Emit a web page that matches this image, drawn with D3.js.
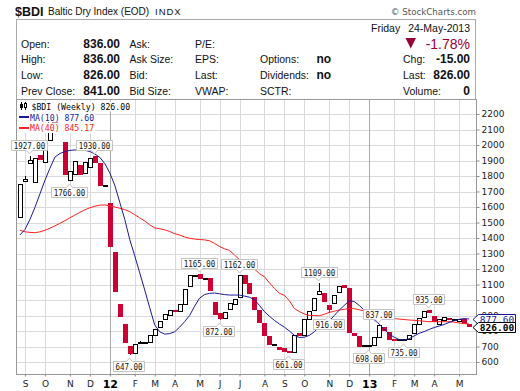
<!DOCTYPE html>
<html>
<head>
<title>$BDI Weekly</title>
<meta charset="utf-8">
<style type="text/css">
body { margin: 0; background: #fff; }
svg { display: block; }
svg text { font-family: "Liberation Sans", Arial, sans-serif; fill: #111; }
svg .mono { font-family: "DejaVu Sans Mono", monospace; }
svg .axis text { font-family: "DejaVu Sans", Verdana, sans-serif; font-size: 9px; fill: #222; }
svg .axis line { stroke: #888; }
</style>
</head>
<body>

<svg id="chart"></svg>

<script src="https://cdn.jsdelivr.net/npm/d3@7"></script>

<script type="text/javascript">
// weekly candles, Aug 29 2011 .. May 20 2013 (index = week number)
const opens = [1534,1768,1880,1761,1935,1884,2032,2150,2110,2021,
  1768,1808,1873,1813,1852,1927,1884,1738,1626,1308,
  974,845,705,655,722,727,725,774,822,871,
  903,935,925,972,1090,1158,1165,1138,1140,989,
  914,882,940,972,1015,1160,1108,1021,935,850,
  768,712,699,690,668,663,786,774,876,935,
  1037,1043,970,975,1050,1097,1080,785,765,702,
  702,705,757,828,796,742,740,741,742,781,
  843,886,935,897,845,866,886,870,866,876,
  848];
const highs = [1742,1797,1927,1916,1935,1980,2173,2160,2115,2021,
  1830,1895,1873,1890,1916,1930,1884,1738,1626,1308,
  974,845,705,716,735,728,774,811,861,908,
  931,935,972,1065,1155,1162,1165,1140,1140,989,
  914,918,979,1004,1162,1160,1108,1021,935,850,
  768,715,699,690,668,772,786,876,929,1010,
  1109,1043,970,1032,1086,1097,1080,785,765,702,
  702,757,837,828,796,742,740,741,770,845,
  882,929,935,897,871,886,886,870,875,876,
  848];
const lows = [1534,1765,1877,1761,1905,1884,2032,2100,2080,1808,
  1766,1808,1808,1813,1852,1884,1738,1738,1344,1050,
  892,725,647,655,718,715,725,774,822,871,
  903,925,925,972,1090,1150,1134,1130,1058,903,
  872,882,940,972,1010,1105,1039,935,850,768,
  710,705,680,667,661,663,770,774,876,935,
  1037,985,916,975,1050,1080,790,768,700,700,
  698,705,757,800,742,737,736,735,742,781,
  843,886,914,860,845,866,868,868,866,845,
  826];
const closes = [1742,1780,1903,1916,1905,1980,2150,2110,2085,1808,
  1830,1895,1808,1890,1916,1884,1738,1738,1344,1050,
  892,725,650,716,722,723,774,811,861,908,
  931,925,972,1065,1155,1156,1134,1135,1058,903,
  876,918,979,1004,1155,1105,1039,935,850,768,
  710,711,680,667,663,772,770,876,929,1010,
  1053,985,935,1032,1086,1080,790,768,700,701,
  702,757,837,800,742,737,739,740,770,845,
  882,929,914,860,871,886,868,869,875,845,
  826];
const ma10 = [1420,1455,1520,1598,1685,1772,1850,1922,1945,1958,
  1965,1968,1968,1966,1958,1942,1920,1880,1820,1740,
  1630,1520,1390,1285,1175,1065,950,840,795,780,
  783,795,825,860,900,960,1012,1035,1043,1045,
  1040,1035,1032,1032,1032,1025,1018,1003,965,925,
  895,868,845,825,800,772,758,760,772,795,
  828,838,865,900,935,965,995,990,965,935,
  900,872,845,810,780,760,745,742,750,768,
  785,796,810,822,832,842,855,866,875,880,
  877.6];
const ma40 = [1450,1440,1436,1434,1440,1450,1463,1478,1495,1512,
  1530,1548,1565,1582,1595,1605,1612,1613,1608,1600,
  1592,1583,1570,1550,1530,1510,1485,1465,1460,1453,
  1442,1428,1419,1407,1398,1393,1390,1388,1382,1365,
  1345,1330,1320,1290,1260,1245,1232,1200,1170,1150,
  1110,1075,1043,1030,995,945,925,910,900,900,
  898,908,920,928,935,940,945,944,937,930,
  922,912,902,893,884,880,877,874,871,869,
  866,863,860,860,860,860,860,857,852,848,
  845.17];

const monthLabels = ["S","O","N","D","12","F","M","A","M","J","J","A","S","O","N","D","13","F","M","A","M"];
const monthWeeks = [1,5,10,14,18,23,27,31,36,40,44,49,53,57,62,66,70,75,79,83,88];
const yTicks = [600,700,800,900,1000,1100,1200,1300,1400,1500,1600,1700,1800,1900,2000,2100,2200];

// swing labels
const callWeeks = [2,10,15,22,36,40,44,54,60,62,70,72,77,82];
const callValues = [1927,1766,1930,647,1165,872,1162,661,1109,916,698,837,735,935];
const callSides = ["up","down","up","down","up","down","up","down","up","down","down","up","down","up"];

// quote table
const quoteLabels = ["Open:", "High:", "Low:", "Prev Close:"];
const quoteValues = ["836.00", "836.00", "826.00", "841.00"];
const bidLabels = ["Ask:", "Ask Size:", "Bid:", "Bid Size:"];
const fundLabels = ["P/E:", "EPS:", "Last:", "VWAP:"];
const flagLabels = ["", "Options:", "Dividends:", "SCTR:"];
const flagValues = ["", "no", "no", ""];
const lastLabels = ["", "Chg:", "Last:", "Volume:"];
const lastValues = ["", "-15.00", "826.00", "0"];

const WIDTH = 520;
const HEIGHT = 391;
const PLOT = {left: 16, right: 476, top: 100, bottom: 374};
const RED = "#cc0033";
const DOWN = "#990033";
const BLUE = "#1a1a99";
const MA_RED = "#ff2020";

const svg = d3.select("#chart").attr("width", WIDTH).attr("height", HEIGHT);

const x = d3.scaleLinear().domain([0, 90]).range([20, 469]);
const y = d3.scaleLinear().domain([600, 2200]).range([362, 114]);

// ---------- header ----------
svg.append("text").attr("x", 15).attr("y", 15.5)
    .attr("font-size", 12.5).attr("font-weight", "bold").text("$BDI");
svg.append("text").attr("x", 48).attr("y", 15)
    .attr("font-size", 10).text("Baltic Dry Index (EOD)");
svg.append("text").attr("x", 155).attr("y", 15)
    .attr("font-size", 9.5).attr("letter-spacing", 1).text("INDX");
svg.append("text").attr("x", 476).attr("y", 15).attr("text-anchor", "end")
    .style("font-family", "'DejaVu Sans', sans-serif").style("fill", "#555")
    .attr("font-size", 8.7).text("\u00A9 StockCharts.com");

svg.append("rect").attr("x", 16.5).attr("y", 19.5).attr("width", 459).attr("height", 80)
    .attr("fill", "#fff").attr("stroke", "#aaa");

const rowY = [47.5, 63, 79, 95];
function cell(txt, cx, row, opts = {}) {
    if (!txt) return;
    svg.append("text").attr("x", cx).attr("y", rowY[row])
        .attr("font-size", opts.bold ? 12 : 10.5)
        .attr("font-weight", opts.bold ? "bold" : null)
        .attr("text-anchor", opts.end ? "end" : null)
        .text(txt);
}
quoteLabels.forEach((t, i) => cell(t, 21, i));
quoteValues.forEach((t, i) => cell(t, 120, i, {bold: true, end: true}));
bidLabels.forEach((t, i) => cell(t, 129.5, i));
fundLabels.forEach((t, i) => cell(t, 195, i));
flagLabels.forEach((t, i) => cell(t, 260, i));
flagValues.forEach((t, i) => cell(t, 316.5, i, {bold: true}));
lastLabels.forEach((t, i) => cell(t, 403, i));
lastValues.forEach((t, i) => cell(t, 470, i, {bold: true, end: true}));

svg.append("text").attr("x", 371).attr("y", 32).attr("font-size", 10.5).text("Friday");
svg.append("text").attr("x", 470).attr("y", 32).attr("font-size", 10.5)
    .attr("text-anchor", "end").text("24-May-2013");
svg.append("path").attr("d", "M405.5,38L416,38L410.75,48.5Z").attr("fill", DOWN);
svg.append("text").attr("x", 470).attr("y", 48.5).attr("font-size", 14)
    .attr("text-anchor", "end").style("fill", DOWN).text("-1.78%");

// ---------- plot frame and grid ----------
svg.append("defs").append("clipPath").attr("id", "plot-clip")
    .append("rect").attr("x", PLOT.left).attr("y", PLOT.top)
    .attr("width", PLOT.right - PLOT.left).attr("height", PLOT.bottom - PLOT.top);

const grid = svg.append("g").attr("shape-rendering", "crispEdges");
grid.selectAll("line.h").data(yTicks).join("line")
    .attr("x1", PLOT.left).attr("x2", PLOT.right)
    .attr("y1", d => Math.round(y(d)) + 0.5).attr("y2", d => Math.round(y(d)) + 0.5)
    .attr("stroke", "#dadada");
grid.selectAll("line.v").data(monthWeeks).join("line")
    .attr("x1", d => Math.round(x(d)) + 0.5).attr("x2", d => Math.round(x(d)) + 0.5)
    .attr("y1", PLOT.top).attr("y2", PLOT.bottom)
    .attr("stroke", (d, i) => /^\d+$/.test(monthLabels[i]) ? "#a8a8a8" : "#dadada");

svg.append("rect").attr("x", PLOT.left + 0.5).attr("y", PLOT.top - 0.5)
    .attr("width", PLOT.right - PLOT.left).attr("height", PLOT.bottom - PLOT.top + 0.5)
    .attr("fill", "none").attr("stroke", "#999").attr("shape-rendering", "crispEdges");

// axes
const yAxis = svg.append("g").attr("class", "axis")
    .attr("transform", `translate(${PLOT.right + 0.5},0)`)
    .call(d3.axisRight(y).tickValues(yTicks).tickSize(3).tickPadding(2).tickFormat(d3.format("d")));
yAxis.select(".domain").remove();

const xAxis = svg.append("g").attr("class", "axis")
    .attr("transform", `translate(0,${PLOT.bottom + 0.5})`)
    .call(d3.axisBottom(x).tickValues(monthWeeks).tickSize(2).tickPadding(4)
        .tickFormat((d, i) => monthLabels[i]));
xAxis.select(".domain").remove();
xAxis.selectAll("text")
    .filter((d, i) => /^\d+$/.test(monthLabels[i]))
    .style("font-weight", "bold").style("font-size", "11px").style("fill", "#000");

// ---------- candles ----------
const plot = svg.append("g").attr("clip-path", "url(#plot-clip)");
const idx = d3.range(opens.length);
const colorOf = i => (i > 0 && closes[i] < closes[i - 1]) ? RED : "#000";

const candles = plot.append("g").attr("shape-rendering", "crispEdges")
    .selectAll("g").data(idx).join("g");
candles.append("line")
    .attr("x1", i => Math.round(x(i)) + 0.5).attr("x2", i => Math.round(x(i)) + 0.5)
    .attr("y1", i => y(highs[i])).attr("y2", i => y(lows[i]))
    .attr("stroke", colorOf);
candles.append("rect")
    .attr("x", i => closes[i] > opens[i] ? Math.round(x(i)) - 1.5 : Math.round(x(i)) - 2)
    .attr("width", i => closes[i] > opens[i] ? 4 : 5)
    .attr("y", i => {
        const top = y(Math.max(opens[i], closes[i]));
        const bot = y(Math.min(opens[i], closes[i]));
        return bot - top < 2 ? (top + bot) / 2 - 1 : top;
    })
    .attr("height", i => Math.max(2, y(Math.min(opens[i], closes[i])) - y(Math.max(opens[i], closes[i]))))
    .attr("fill", i => closes[i] > opens[i] ? "#fff" : colorOf(i))
    .attr("stroke", i => closes[i] > opens[i] ? colorOf(i) : "none");

// moving averages
const maLine = series => d3.line().x(i => x(i)).y(i => y(series[i]));
plot.append("path").datum(idx).attr("fill", "none").attr("stroke", MA_RED)
    .attr("stroke-width", 1).attr("d", maLine(ma40));
plot.append("path").datum(idx).attr("fill", "none").attr("stroke", BLUE)
    .attr("stroke-width", 1).attr("d", maLine(ma10));

// ---------- swing labels ----------
const calls = svg.append("g");
callWeeks.forEach((w, k) => {
    const label = callValues[k].toFixed(2);
    const cx = x(w) - 1;
    const vy = y(callValues[k]);
    const bw = label.length * 4.5 + 4;
    const bh = 10;
    const left = Math.round(cx - bw / 2) + 0.5;
    const right = left + Math.round(bw);
    const mid = Math.round(cx) + 0.5;
    let d, ty;
    if (callSides[k] === "up") {
        const bot = Math.round(vy - 6) + 0.5;
        const top = bot - bh;
        d = `M${left},${top}H${right}V${bot}H${mid + 3}L${mid},${bot + 3.5}L${mid - 3},${bot}H${left}Z`;
        ty = bot - 2;
    } else {
        const top = Math.round(vy + 6) + 0.5;
        const bot = top + bh;
        d = `M${left},${top}H${mid - 3}L${mid},${top - 3.5}L${mid + 3},${top}H${right}V${bot}H${left}Z`;
        ty = bot - 2;
    }
    calls.append("path").attr("d", d).attr("fill", "#fff").attr("stroke", "#c4c4c4");
    calls.append("text").attr("class", "mono").attr("x", (left + right) / 2).attr("y", ty)
        .attr("text-anchor", "middle").attr("font-size", 8)
        .attr("textLength", label.length * 4.5).attr("lengthAdjust", "spacingAndGlyphs")
        .text(label);
});

// ---------- legend ----------
const legend = svg.append("g");
function legendRow(txt, tx, ty, color) {
    const bg = legend.append("rect").attr("fill", "#fff");
    const t = legend.append("text").attr("class", "mono").attr("x", tx).attr("y", ty)
        .attr("font-size", 8.2).style("fill", color).text(txt);
    const b = t.node().getBBox();
    bg.attr("x", PLOT.left + 1).attr("y", b.y).attr("width", b.x + b.width - PLOT.left).attr("height", b.height);
}
legendRow("$BDI (Weekly) " + closes[closes.length - 1].toFixed(2), 31.5, 109.5, "#000");
legendRow("MA(10) " + ma10[ma10.length - 1].toFixed(2), 30, 120.5, BLUE);
legendRow("MA(40) " + ma40[ma40.length - 1].toFixed(2), 30, 131, MA_RED);
legend.append("rect").attr("x", 19).attr("y", 116).attr("width", 10).attr("height", 2).attr("fill", BLUE);
legend.append("rect").attr("x", 19).attr("y", 127).attr("width", 10).attr("height", 2).attr("fill", MA_RED);
// candle icon
legend.append("g").attr("shape-rendering", "crispEdges").call(g => {
    g.append("line").attr("x1", 21.5).attr("x2", 21.5).attr("y1", 102).attr("y2", 110).attr("stroke", "#000");
    g.append("rect").attr("x", 20).attr("y", 104).attr("width", 3).attr("height", 4).attr("fill", "#000");
    g.append("line").attr("x1", 25.5).attr("x2", 25.5).attr("y1", 102).attr("y2", 110).attr("stroke", "#000");
    g.append("rect").attr("x", 24.5).attr("y", 103.5).attr("width", 2).attr("height", 4).attr("fill", "#fff").attr("stroke", "#000");
});

// ---------- last value tags ----------
function valueTag(value, color, bold) {
    const cy = Math.round(y(value)) + 0.5;
    svg.append("path")
        .attr("d", `M${PLOT.right - 3},${cy}L${PLOT.right + 2.5},${cy - 5}H${PLOT.right + 39.5}V${cy + 5}H${PLOT.right + 2.5}Z`)
        .attr("fill", "#fff").attr("stroke", color);
    svg.append("text").attr("class", "mono").attr("x", PLOT.right + 21).attr("y", cy + 3.5)
        .attr("text-anchor", "middle").attr("font-size", 9.5)
        .attr("font-weight", bold ? "bold" : null).style("fill", color)
        .text(value.toFixed(2));
}
valueTag(ma10[ma10.length - 1], BLUE, false);
valueTag(closes[closes.length - 1], "#000", true);
</script>

</body>
</html>
